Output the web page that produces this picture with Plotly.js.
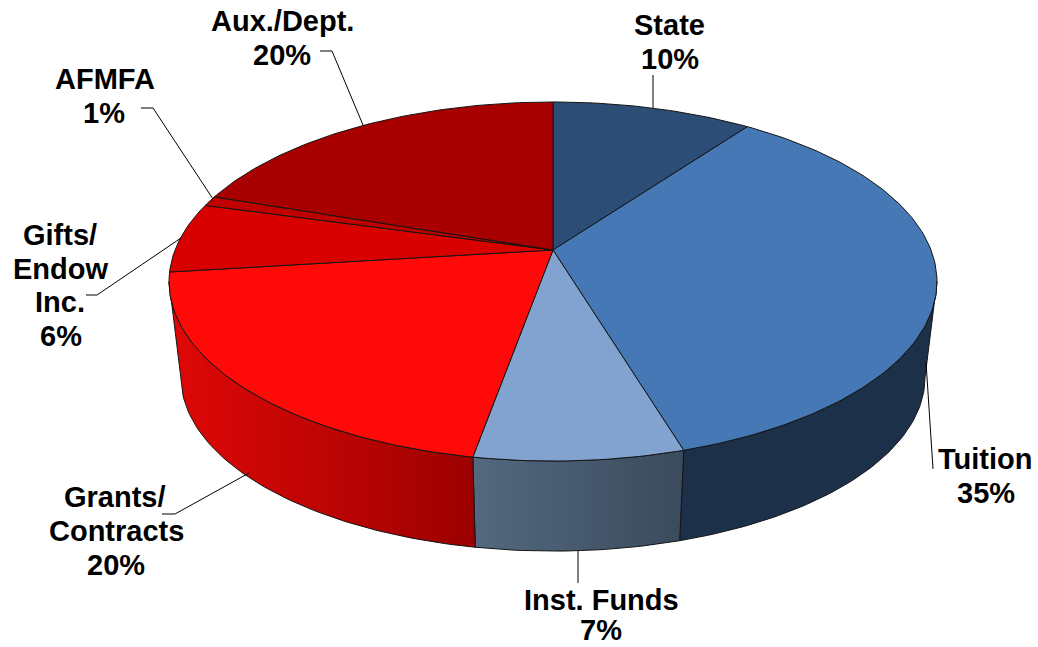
<!DOCTYPE html>
<html><head><meta charset="utf-8">
<script src="https://cdn.plot.ly/plotly-3.0.1.min.js"></script>
<style>html,body{margin:0;padding:0;background:#fff}#c{width:1038px;height:647px}</style>
</head><body><div id="c"></div>
<script>
// Data
const categories = ["State","Tuition","Inst. Funds","Grants/Contracts","Gifts/Endow Inc.","AFMFA","Aux./Dept."];
const shares     = [10.0, 35.4, 7.46, 20.24, 6.3, 0.9, 19.8];   // slice sizes
const labelLines = [["State","10%"],["Tuition","35%"],["Inst. Funds","7%"],["Grants/","Contracts","20%"],["Gifts/","Endow","Inc.","6%"],["AFMFA","1%"],["Aux./Dept.","20%"]];
const topColors  = ["#2c4d75","#4578b4","#82a3cf","#ff0909","#d90000","#c00000","#a80000"];
const wallFills  = [null,["#1c304a","#1c304a"],["#53697f","#3b4a5d"],["#e00808","#9c0000"],null,null,null];

// Layout
const W=1038,H=647;
const CX=553, TOP_Y=250, A=378, B=174, K=0.1755, BOT_Y=346.6, BOT_S=0.969;
const labelPos = [
  [[669,25],[670,59]],
  [[985,459],[986,493]],
  [[601,600],[601,630]],
  [[115,497],[116,531],[116,565]],
  [[60,235],[60,269],[60,302],[61,336]],
  [[105,79],[104,113]],
  [[282,21],[282,55]]
];
const leaders = [
  [[653,75],[653,108]],
  [[933,469],[926,362]],
  [[578,583],[578,551]],
  [[162,514],[175,514],[249,473]],
  [[86,295],[97,295],[181,238]],
  [[141,108],[153,108],[213,199]],
  [[320,51],[332,51],[363,125]]
];
const rad=d=>d*Math.PI/180;
function pt(deg,bottom){
  const u=Math.sin(rad(deg)),v=Math.cos(rad(deg)),w=1+K*v;
  const s=bottom?BOT_S:1;
  return [CX+s*A*u/w,(bottom?BOT_Y:TOP_Y)-s*B*v/w];
}
function arc(a,b,bottom){
  const n=Math.max(2,Math.ceil(Math.abs(b-a)));const o=[];
  for(let i=0;i<=n;i++)o.push(pt(a+(b-a)*i/n,bottom));
  return o;
}
const LINE="#141414";
const total=shares.reduce((p,c)=>p+c,0);
let cum=0;const ranges=shares.map(s=>{const a=cum/total*360;cum+=s;return [a,cum/total*360];});
const tanR=Math.acos(-K)*180/Math.PI, tanL=360-tanR;
const traces=[];
// walls
ranges.forEach((r,i)=>{
  const a=Math.max(r[0],tanR),b=Math.min(r[1],tanL);
  if(!wallFills[i]||b<=a)return;
  const p=arc(a,b,false).concat(arc(b,a,true));p.push(p[0]);
  const cs=[[0,wallFills[i][0]],[1,wallFills[i][1]]];
  traces.push({type:"scatter",mode:"lines",x:p.map(q=>q[0]),y:p.map(q=>q[1]),fill:"toself",
    fillgradient:{type:"horizontal",colorscale:cs},
    line:{color:LINE,width:1},hoverinfo:"skip",showlegend:false,name:categories[i]+" wall"});
});
// top faces
ranges.forEach((r,i)=>{
  const q=[[CX,TOP_Y]].concat(arc(r[0],r[1],false));q.push([CX,TOP_Y]);
  traces.push({type:"scatter",mode:"lines",x:q.map(c=>c[0]),y:q.map(c=>c[1]),fill:"toself",fillcolor:topColors[i],
    line:{color:LINE,width:1},hoverinfo:"skip",showlegend:false,name:categories[i]});
});
// leaders
leaders.forEach((l,i)=>traces.push({type:"scatter",mode:"lines",x:l.map(c=>c[0]),y:l.map(c=>c[1]),
  line:{color:"#000",width:1},hoverinfo:"skip",showlegend:false,name:categories[i]+" leader"}));
const annotations=[];
labelLines.forEach((ls,i)=>ls.forEach((t,j)=>annotations.push({x:labelPos[i][j][0],y:labelPos[i][j][1],text:"<b>"+t+"</b>",
  showarrow:false,xanchor:"center",yanchor:"middle",font:{family:"Liberation Sans",size:29,color:"#000"}})));
Plotly.newPlot("c",traces,{
  width:W,height:H,margin:{l:0,r:0,t:0,b:0},paper_bgcolor:"#fff",plot_bgcolor:"#fff",showlegend:false,
  xaxis:{range:[0,W],visible:false,fixedrange:true},
  yaxis:{range:[H,0],visible:false,fixedrange:true},
  annotations
},{displayModeBar:false,staticPlot:true});
</script></body></html>
